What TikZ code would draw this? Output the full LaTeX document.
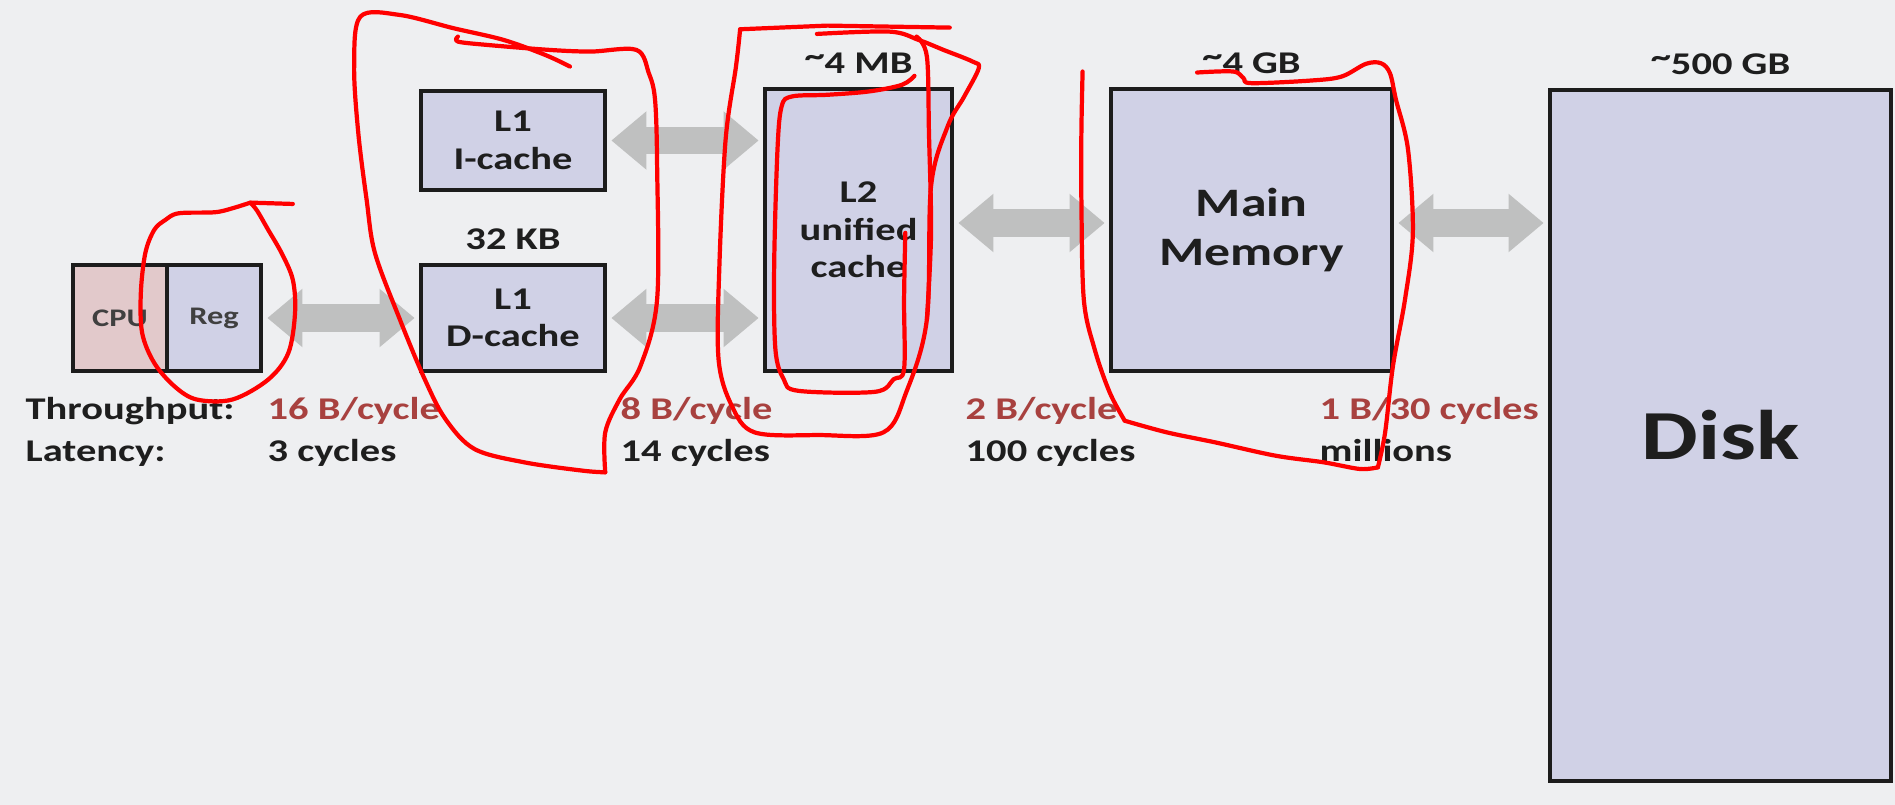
\documentclass[tikz,border=0pt]{standalone}
\usepackage{fontspec}
\setmainfont{Carlito}[FakeStretch=1.28]
\usepackage{tikz}
\usetikzlibrary{arrows.meta,positioning}
\definecolor{paper}{HTML}{EEEFF1}
\definecolor{boxfill}{HTML}{D0D1E6}
\definecolor{cpufill}{HTML}{E2C9CB}
\definecolor{boxline}{HTML}{1C1C1C}
\definecolor{busgrey}{HTML}{BFC0C0}
\definecolor{rate}{HTML}{A8413F}
\definecolor{ink}{HTML}{1E1E1E}
\definecolor{pen}{HTML}{FF0000}
\newcommand{\approxsz}{\raisebox{0.24em}{\textasciitilde}}
\tikzset{
  unit/.style={draw=boxline,fill=boxfill,line width=1.2pt,inner sep=0pt,
               align=center,text=ink,font=\fontsize{9}{10.7}\selectfont\bfseries},
  sizelbl/.style={inner sep=0pt,text=ink,font=\fontsize{9}{10.7}\selectfont\bfseries},
  rowlbl/.style={inner sep=0pt,anchor=base west,text=ink,
                 font=\fontsize{9}{10.7}\selectfont\bfseries},
  bus/.style={{Triangle[length=10pt,width=16pt]}-{Triangle[length=10pt,width=16pt]},
              line width=7.7pt,busgrey,shorten <=1.2pt,shorten >=1.2pt},
  redpen/.style={pen,line width=1.2pt,line cap=round,line join=round},
}

\begin{document}
\begin{tikzpicture}
  \fill[paper](0,0)rectangle(18.95,-8.05);
  \useasboundingbox(0,0)rectangle(18.95,-8.05);
  % storage units
  \node[unit,fill=cpufill,minimum width=0.94cm,minimum height=1.06cm,
        font=\fontsize{7.2}{8}\selectfont\bfseries,text=ink!85](cpu)at(1.20,-3.18){CPU};
  \node[unit,minimum width=0.94cm,minimum height=1.06cm,
        font=\fontsize{7.2}{8}\selectfont\bfseries,text=ink!85](reg)at(2.14,-3.18){Reg};
  \node[unit,minimum width=1.84cm,minimum height=0.99cm](l1i)at(5.13,-1.405){L1\\I-cache};
  \node[unit,minimum width=1.84cm,minimum height=1.06cm](l1d)at(5.13,-3.18){L1\\D-cache};
  \node[unit,minimum width=1.87cm,minimum height=2.82cm](l2)at(8.585,-2.30){L2\\unified\\cache};
  \node[unit,minimum width=2.81cm,minimum height=2.82cm,
        font=\fontsize{11.5}{13.7}\selectfont\bfseries](mm)at(12.515,-2.30){Main\\Memory};
  \node[unit,minimum width=3.41cm,minimum height=6.91cm,
        font=\fontsize{20}{24}\selectfont\bfseries](disk)at(17.205,-4.355){Disk};
  % sizes
  \node[sizelbl,above=3.5pt of l1d](l1dsize){32 KB};
  \node[sizelbl,above=3.5pt of l2](l2size){\approxsz4 MB};
  \node[sizelbl,above=3.5pt of mm](mmsize){\approxsz4 GB};
  \node[sizelbl,above=3.5pt of disk](disksize){\approxsz500 GB};
  % buses
  \draw[bus](reg.east)--(l1d.west);
  \draw[bus](l1i.east)--(l1i.east -| l2.west);
  \draw[bus](l1d.east)--(l1d.east -| l2.west);
  \draw[bus]([yshift=0.07cm]l2.east)--([yshift=0.07cm]mm.west);
  \draw[bus]([yshift=0.07cm]mm.east)--([yshift=0.07cm]mm.east -| disk.west);
  % throughput and latency rows
  \node[rowlbl](thru)at(0.25,-4.19){Throughput:};
  \node[rowlbl](laten)at(0.25,-4.61){Latency:};
  \node[rowlbl,text=rate](thrua)at(2.67,-4.19){16 B/cycle};
  \node[rowlbl](latena)at(2.67,-4.61){3 cycles};
  \node[rowlbl,text=rate](thrub)at(6.20,-4.19){8 B/cycle};
  \node[rowlbl](latenb)at(6.20,-4.61){14 cycles};
  \node[rowlbl,text=rate](thruc)at(9.65,-4.19){2 B/cycle};
  \node[rowlbl](latenc)at(9.65,-4.61){100 cycles};
  \node[rowlbl,text=rate](thrud)at(13.19,-4.19){1 B/30 cycles};
  \node[rowlbl](latend)at(13.19,-4.61){millions};
  % red pen marks
  \begin{scope}[shift={(0cm,-1.8cm)},x=0.004464cm,y=-0.003333cm]
    \draw[redpen](655,72)--(560,68);
    \draw[redpen]plot[smooth,tension=0.55]coordinates{(560,68)(575,92)(600,150)(630,220)
      (655,300)(660,400)(645,520)(600,600)(520,660)(440,660)(390,620)(345,550)(318,460)
      (315,340)(325,220)(345,150)(370,120)(400,100)(480,97)(520,85)(560,68)};
  \end{scope}
  \begin{scope}[shift={(3.5cm,0cm)},x=0.004149cm,y=-0.003333cm]
    \draw[redpen]plot[smooth,tension=0.55]coordinates{(530,200)(470,165)(370,120)(250,85)
      (120,45)(25,50)(10,200)(20,400)(40,600)(60,760)(120,960)(180,1140)(230,1260)
      (300,1350)(420,1390)(560,1415)(615,1420)};
    \draw[redpen]plot[smooth,tension=0.55]coordinates{(615,1420)(615,1300)(650,1200)
      (700,1100)(740,900)(740,500)(735,300)(720,220)(690,150)(580,155)(480,150)(330,135)
      (260,125)(260,110)};
    \draw[redpen](1445,83)--(1150,77)--(940,88);
    \draw[redpen]plot[smooth,tension=0.55]coordinates{(940,88)(930,200)(905,420)(890,800)
      (888,1080)(920,1220)(975,1300)(1130,1308)(1285,1300)(1340,1180)(1390,960)(1400,560)
      (1440,380)(1480,290)(1515,205)(1500,185)(1430,150)(1370,120)(1300,95)(1125,102)};
    \draw[redpen]plot[smooth,tension=0.55]coordinates{(1365,110)(1390,170)(1395,400)
      (1400,700)(1390,960)};
    \draw[redpen]plot[smooth,tension=0.55]coordinates{(1360,228)(1330,255)(1250,275)
      (1150,285)(1065,290)(1040,320)(1030,450)(1022,800)(1025,1050)(1045,1140)(1080,1175)
      (1265,1178)(1310,1140)(1335,1110)(1335,900)(1338,700)};
  \end{scope}
  \begin{scope}[shift={(9.5cm,0cm)},x=0.006024cm,y=-0.003333cm]
    \draw[redpen]plot[smooth,tension=0.55]coordinates{(220,215)(218,400)(218,600)(222,900)
      (240,1050)(265,1180)(290,1265)};
    \draw[redpen]plot[smooth,tension=0.55]coordinates{(290,1265)(360,1300)(440,1330)
      (540,1370)(620,1390)(680,1410)(710,1405)};
    \draw[redpen]plot[smooth,tension=0.55]coordinates{(710,1405)(722,1300)(735,1100)
      (755,900)(768,700)(760,450)(740,300)(730,220)(715,190)(690,192)(650,230)(600,242)
      (500,250)(487,235)(470,215)(410,218)};
  \end{scope}
\end{tikzpicture}
\end{document}
